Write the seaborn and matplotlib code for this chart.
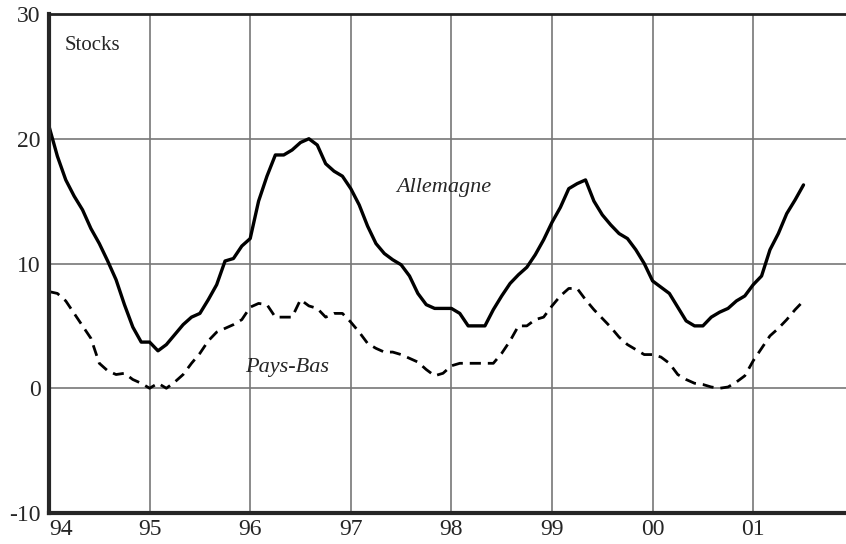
import numpy as np
import pandas as pd
import seaborn as sns
import matplotlib.pyplot as plt

# monthly values, Jan 1994 .. Jul 2001
allemagne = [
    21.0, 18.6, 16.7, 15.4, 14.3, 12.8, 11.6, 10.2, 8.7, 6.7, 4.9, 3.7,
    3.7, 3.0, 3.5, 4.3, 5.1, 5.7, 6.0, 7.1, 8.3, 10.2, 10.4, 11.4,
    12.0, 15.0, 17.0, 18.7, 18.7, 19.1, 19.7, 20.0, 19.5, 18.0, 17.4, 17.0,
    16.0, 14.7, 13.0, 11.6, 10.8, 10.3, 9.9, 9.0, 7.6, 6.7, 6.4, 6.4,
    6.4, 6.0, 5.0, 5.0, 5.0, 6.3, 7.4, 8.4, 9.1, 9.7, 10.7, 11.9,
    13.3, 14.5, 16.0, 16.4, 16.7, 15.0, 13.9, 13.1, 12.4, 12.0, 11.1, 10.0,
    8.6, 8.1, 7.6, 6.5, 5.4, 5.0, 5.0, 5.7, 6.1, 6.4, 7.0, 7.4,
    8.3, 9.0, 11.1, 12.4, 14.0, 15.1, 16.3,
]
pays_bas = [
    7.75, 7.6, 7.0, 6.0, 5.0, 4.0, 2.0, 1.4, 1.1, 1.2, 0.7, 0.4,
    0.0, 0.4, 0.0, 0.5, 1.1, 2.0, 2.8, 3.8, 4.5, 4.8, 5.1, 5.5,
    6.5, 6.8, 6.7, 5.7, 5.7, 5.7, 7.1, 6.6, 6.4, 5.7, 6.0, 6.0,
    5.3, 4.5, 3.6, 3.2, 2.9, 2.9, 2.7, 2.4, 2.1, 1.5, 1.0, 1.2,
    1.8, 2.0, 2.0, 2.0, 2.0, 2.0, 2.8, 3.8, 5.0, 5.0, 5.5, 5.7,
    6.6, 7.4, 8.0, 8.0, 7.1, 6.3, 5.6, 4.9, 4.1, 3.5, 3.1, 2.7,
    2.7, 2.5, 2.0, 1.1, 0.7, 0.4, 0.3, 0.1, 0.0, 0.1, 0.5, 1.0,
    2.2, 3.2, 4.2, 4.8, 5.5, 6.3, 7.0,
]
year_ticks = [94, 95, 96, 97, 98, 99, 100, 101]
year_labels = ['94', '95', '96', '97', '98', '99', '00', '01']
y_ticks = [-10, 0, 10, 20, 30]

t = 94 + np.arange(len(allemagne)) / 12
df = pd.DataFrame({'t': t, 'Allemagne': allemagne, 'Pays-Bas': pays_bas})

sns.set_style('white')
plt.rcParams['font.family'] = ['Liberation Serif', 'DejaVu Serif']
plt.rcParams['axes.unicode_minus'] = False

fig = plt.figure(figsize=(8.46, 5.44), dpi=100)
ax = fig.add_axes([49 / 846, 1 - 513 / 544, 1 - 49 / 846, (513 - 14) / 544])

sns.lineplot(data=df, x='t', y='Allemagne', ax=ax, color='black', linewidth=2.4)
sns.lineplot(data=df, x='t', y='Pays-Bas', ax=ax, color='black', linewidth=2.0,
             dashes=False, linestyle=(0, (4, 2.5)))

ax.set_xlim(94, 94 + 797 / 100.6)
ax.set_ylim(-10, 30)
ax.set_xticks(year_ticks)
ax.set_xticklabels(year_labels)
ax.set_yticks(y_ticks)
ax.set_xlabel('')
ax.set_ylabel('')
ax.grid(True, color='#777777', linewidth=1.2)
ax.set_axisbelow(True)

ax.tick_params(axis='x', length=0, pad=4, labelsize=17)
ax.tick_params(axis='y', direction='in', length=6, width=2.5, pad=6, labelsize=17)
for lab in ax.get_xticklabels():
    lab.set_horizontalalignment('left' if lab.get_text() == '94' else 'center')

ax.spines['left'].set_linewidth(3)
ax.spines['bottom'].set_linewidth(3)
ax.spines['top'].set_linewidth(2)
ax.spines['top'].set_color('#222222')
ax.spines['right'].set_visible(False)

ax.text(94.16, 27.5, 'Stocks', fontsize=15, va='center', ha='left')
ax.text(97.92, 16.1, 'Allemagne', fontsize=16, style='italic', ha='center', va='center')
ax.text(96.37, 1.7, 'Pays-Bas', fontsize=16, style='italic', ha='center', va='center')

fig.savefig('out.png', dpi=100)
